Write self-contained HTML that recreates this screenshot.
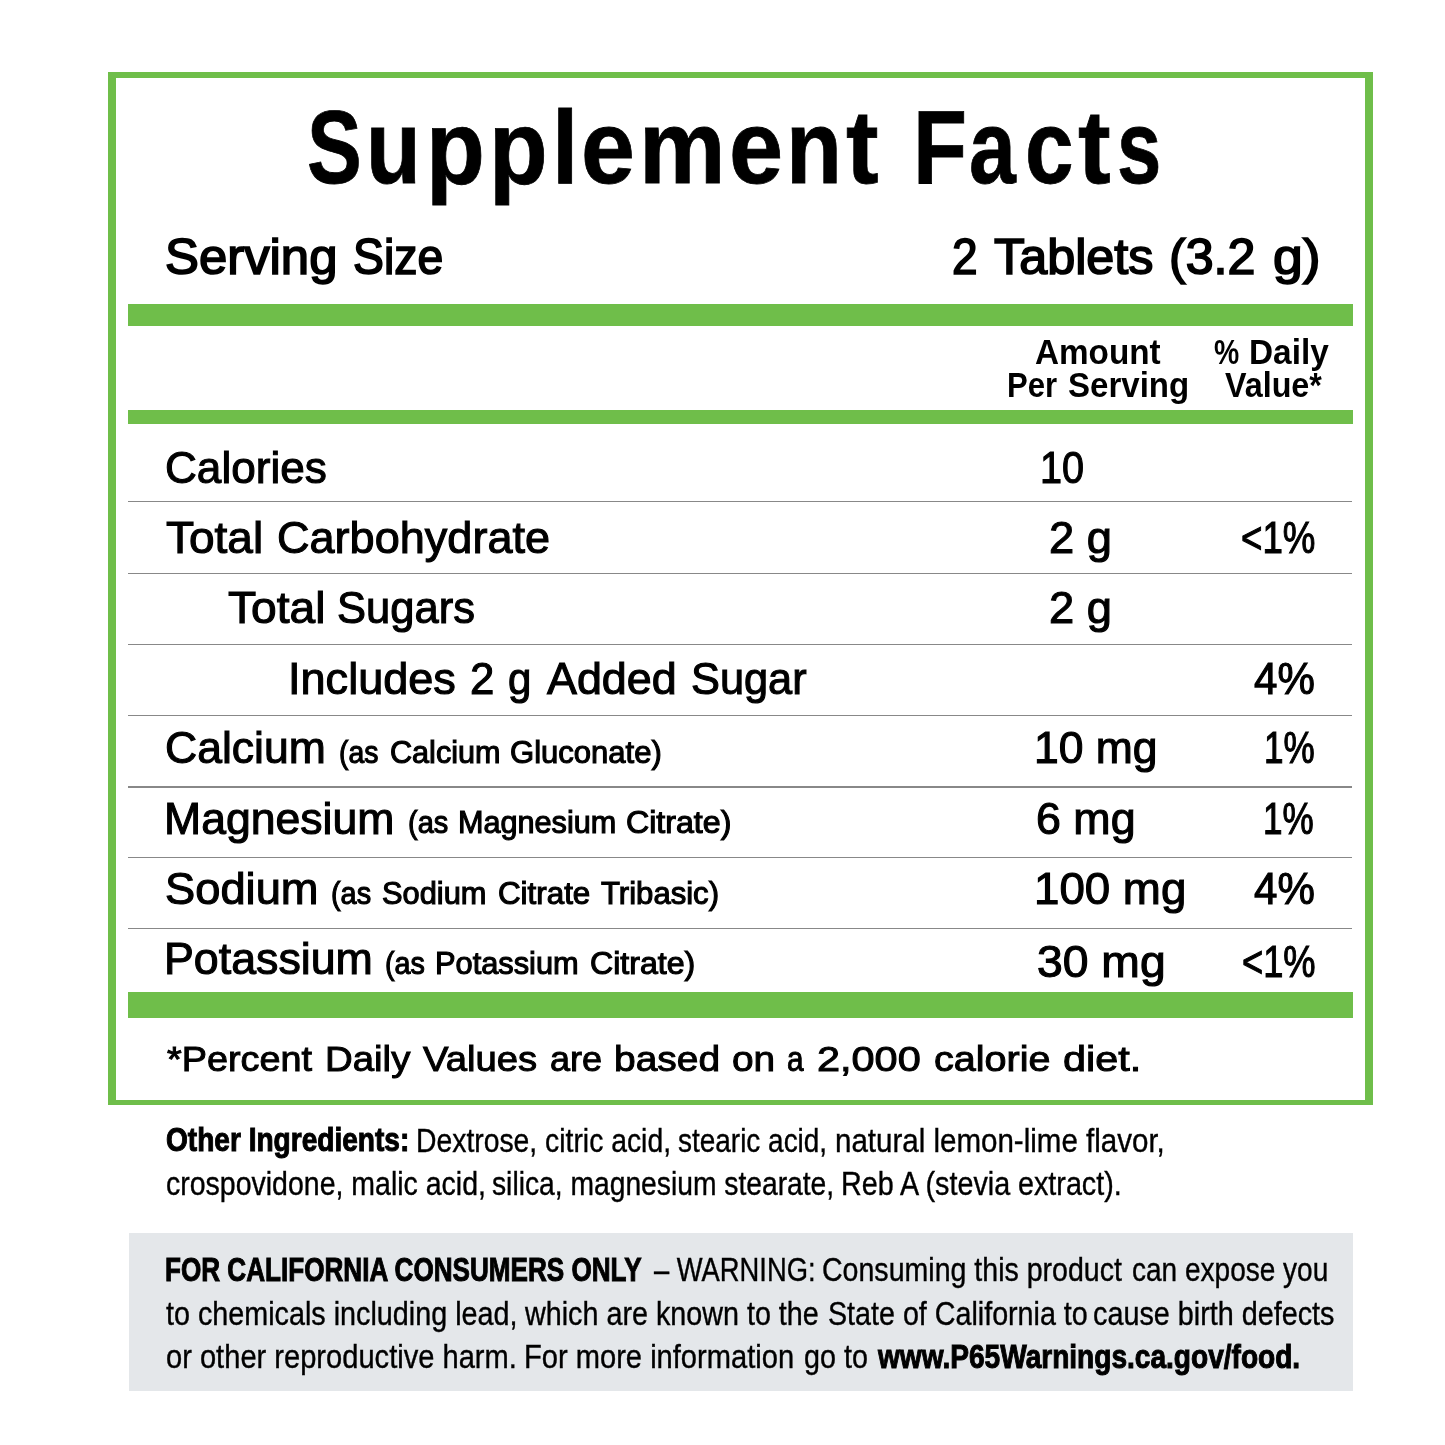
<!DOCTYPE html>
<html><head><meta charset="utf-8"><title>Supplement Facts</title>
<style>
html,body{margin:0;padding:0;background:#fff;}
body{width:1445px;height:1445px;position:relative;overflow:hidden;font-family:"Liberation Sans",sans-serif;color:#000;}
.t{position:absolute;white-space:nowrap;line-height:1;transform-origin:0 0;color:#000;}
.box{position:absolute;left:108px;top:72px;width:1249px;height:1022px;border-style:solid;border-color:#6fbe4a;border-width:6px 8px 5.5px 8px;}
.bar{position:absolute;left:128px;width:1225px;background:#6fbe4a;}
.ln{position:absolute;left:128px;width:1224px;height:1.25px;background:#888;}
.w{position:absolute;left:0;top:0;}
.txt{position:absolute;left:0;top:0;width:1445px;height:1445px;will-change:transform;}
.warn{position:absolute;left:129px;top:1233px;width:1224px;height:158px;background:#e4e7ea;}
</style></head><body>
<div class="box"></div>
<div class="bar" style="top:304px;height:22px"></div>
<div class="bar" style="top:410.2px;height:13.5px"></div>
<div class="bar" style="top:992px;height:26px"></div>
<div class="ln" style="top:501.00px"></div>
<div class="ln" style="top:572.70px"></div>
<div class="ln" style="top:643.60px"></div>
<div class="ln" style="top:714.80px"></div>
<div class="ln" style="top:786.30px"></div>
<div class="ln" style="top:857.10px"></div>
<div class="ln" style="top:928.00px"></div>
<div class="warn"></div>
<div class="txt">
<div class="w"><span class="t" style="left:306.73px;top:96px;font-size:103.63px;transform:scaleX(0.7917);font-weight:700;-webkit-text-stroke:0.8px #000;">S</span><span class="t" style="left:366.16px;top:96px;font-size:103.63px;transform:scaleX(0.8649);font-weight:700;-webkit-text-stroke:0.8px #000;">u</span><span class="t" style="left:425.59px;top:96px;font-size:103.63px;transform:scaleX(0.9307);font-weight:700;-webkit-text-stroke:0.8px #000;">p</span><span class="t" style="left:488.61px;top:96px;font-size:103.63px;transform:scaleX(0.9270);font-weight:700;-webkit-text-stroke:0.8px #000;">p</span><span class="t" style="left:551.74px;top:96px;font-size:103.63px;transform:scaleX(0.9177);font-weight:700;-webkit-text-stroke:0.8px #000;">l</span><span class="t" style="left:580.64px;top:96px;font-size:103.63px;transform:scaleX(0.9344);font-weight:700;-webkit-text-stroke:0.8px #000;">e</span><span class="t" style="left:638.95px;top:96px;font-size:103.63px;transform:scaleX(0.9381);font-weight:700;-webkit-text-stroke:0.8px #000;">m</span><span class="t" style="left:728.52px;top:96px;font-size:103.63px;transform:scaleX(0.9382);font-weight:700;-webkit-text-stroke:0.8px #000;">e</span><span class="t" style="left:786.25px;top:96px;font-size:103.63px;transform:scaleX(0.8842);font-weight:700;-webkit-text-stroke:0.8px #000;">n</span><span class="t" style="left:846.43px;top:96px;font-size:103.63px;transform:scaleX(0.9438);font-weight:700;-webkit-text-stroke:0.8px #000;">t</span></div>
<div class="w"><span class="t" style="left:912.92px;top:96px;font-size:103.63px;transform:scaleX(0.8540);font-weight:700;-webkit-text-stroke:0.8px #000;">F</span><span class="t" style="left:968.59px;top:96px;font-size:103.63px;transform:scaleX(0.8116);font-weight:700;-webkit-text-stroke:0.8px #000;">a</span><span class="t" style="left:1024.97px;top:96px;font-size:103.63px;transform:scaleX(0.8417);font-weight:700;-webkit-text-stroke:0.8px #000;">c</span><span class="t" style="left:1078.43px;top:96px;font-size:103.63px;transform:scaleX(0.9467);font-weight:700;-webkit-text-stroke:0.8px #000;">t</span><span class="t" style="left:1117.00px;top:96px;font-size:103.63px;transform:scaleX(0.7683);font-weight:700;-webkit-text-stroke:0.8px #000;">s</span></div>
<div class="t" style="left:165.02px;top:233px;font-size:49.71px;transform:scaleX(1.0231);-webkit-text-stroke:1.7px #000;">Serving</div>
<div class="t" style="left:353.23px;top:233px;font-size:49.71px;transform:scaleX(0.9330);-webkit-text-stroke:1.7px #000;">Size</div>
<div class="t" style="left:951.64px;top:233px;font-size:49.71px;transform:scaleX(0.9261);-webkit-text-stroke:1.7px #000;">2</div>
<div class="t" style="left:993.85px;top:233px;font-size:49.71px;transform:scaleX(1.0125);-webkit-text-stroke:1.7px #000;">Tablets</div>
<div class="t" style="left:1168.53px;top:233px;font-size:49.71px;transform:scaleX(1.0084);-webkit-text-stroke:1.7px #000;">(3.2</div>
<div class="t" style="left:1273.26px;top:233px;font-size:49.71px;transform:scaleX(1.0764);-webkit-text-stroke:1.7px #000;">g)</div>
<div class="t" style="left:1034.80px;top:334px;font-size:35.32px;transform:scaleX(0.9423);font-weight:700;">Amount</div>
<div class="t" style="left:1006.94px;top:367px;font-size:35.32px;transform:scaleX(0.8806);font-weight:700;">Per</div>
<div class="t" style="left:1068.26px;top:367px;font-size:35.32px;transform:scaleX(0.9358);font-weight:700;">Serving</div>
<div class="t" style="left:1214.20px;top:334px;font-size:35.32px;transform:scaleX(0.8032);font-weight:700;">%</div>
<div class="t" style="left:1249.21px;top:334px;font-size:35.32px;transform:scaleX(0.9449);font-weight:700;">Daily</div>
<div class="t" style="left:1224.70px;top:367px;font-size:35.32px;transform:scaleX(0.9138);font-weight:700;">Value*</div>
<div class="t" style="left:165.38px;top:445px;font-size:45.2px;transform:scaleX(0.9764);-webkit-text-stroke:1.1px #000;">Calories</div>
<div class="t" style="left:1040.15px;top:445px;font-size:45.2px;transform:scaleX(0.8765);-webkit-text-stroke:1.1px #000;">10</div>
<div class="t" style="left:165.74px;top:515px;font-size:45.2px;transform:scaleX(1.0181);-webkit-text-stroke:1.1px #000;">Total</div>
<div class="t" style="left:276.75px;top:515px;font-size:45.2px;transform:scaleX(0.9972);-webkit-text-stroke:1.1px #000;">Carbohydrate</div>
<div class="t" style="left:1048.65px;top:515px;font-size:45.2px;transform:scaleX(1.0019);-webkit-text-stroke:1.1px #000;">2 g</div>
<div class="t" style="left:1241.32px;top:515px;font-size:45.2px;transform:scaleX(0.8112);-webkit-text-stroke:1.1px #000;">&lt;1%</div>
<div class="t" style="left:227.74px;top:585px;font-size:45.2px;transform:scaleX(1.0213);-webkit-text-stroke:1.1px #000;">Total</div>
<div class="t" style="left:337.30px;top:585px;font-size:45.2px;transform:scaleX(0.9632);-webkit-text-stroke:1.1px #000;">Sugars</div>
<div class="t" style="left:1048.65px;top:585px;font-size:45.2px;transform:scaleX(1.0019);-webkit-text-stroke:1.1px #000;">2 g</div>
<div class="t" style="left:287.76px;top:656px;font-size:45.2px;transform:scaleX(0.9975);-webkit-text-stroke:1.1px #000;">Includes</div>
<div class="t" style="left:469.50px;top:656px;font-size:45.2px;transform:scaleX(0.9683);-webkit-text-stroke:1.1px #000;">2</div>
<div class="t" style="left:507.78px;top:656px;font-size:45.2px;transform:scaleX(0.9307);-webkit-text-stroke:1.1px #000;">g</div>
<div class="t" style="left:547.35px;top:656px;font-size:45.2px;transform:scaleX(0.9928);-webkit-text-stroke:1.1px #000;">Added</div>
<div class="t" style="left:691.31px;top:656px;font-size:45.2px;transform:scaleX(0.9588);-webkit-text-stroke:1.1px #000;">Sugar</div>
<div class="t" style="left:1253.58px;top:656px;font-size:45.2px;transform:scaleX(0.9310);-webkit-text-stroke:1.1px #000;">4%</div>
<div class="t" style="left:165.37px;top:725px;font-size:45.2px;transform:scaleX(0.9852);-webkit-text-stroke:1.1px #000;">Calcium</div>
<div class="t" style="left:339.08px;top:737px;font-size:30.67px;transform:scaleX(0.9254);-webkit-text-stroke:1.1px #000;">(as</div>
<div class="t" style="left:389.85px;top:737px;font-size:30.67px;transform:scaleX(0.9983);-webkit-text-stroke:1.1px #000;">Calcium</div>
<div class="t" style="left:510.14px;top:737px;font-size:30.67px;transform:scaleX(1.0118);-webkit-text-stroke:1.1px #000;">Gluconate)</div>
<div class="t" style="left:1034.39px;top:725px;font-size:45.2px;transform:scaleX(0.9839);-webkit-text-stroke:1.1px #000;">10 mg</div>
<div class="t" style="left:1263.60px;top:725px;font-size:45.2px;transform:scaleX(0.7761);-webkit-text-stroke:1.1px #000;">1%</div>
<div class="t" style="left:163.98px;top:796px;font-size:45.2px;transform:scaleX(0.9863);-webkit-text-stroke:1.1px #000;">Magnesium</div>
<div class="t" style="left:407.68px;top:807px;font-size:30.67px;transform:scaleX(0.9443);-webkit-text-stroke:1.1px #000;">(as</div>
<div class="t" style="left:457.85px;top:807px;font-size:30.67px;transform:scaleX(0.9986);-webkit-text-stroke:1.1px #000;">Magnesium</div>
<div class="t" style="left:626.23px;top:807px;font-size:30.67px;transform:scaleX(1.0484);-webkit-text-stroke:1.1px #000;">Citrate)</div>
<div class="t" style="left:1036.26px;top:796px;font-size:45.2px;transform:scaleX(0.9915);-webkit-text-stroke:1.1px #000;">6 mg</div>
<div class="t" style="left:1262.60px;top:796px;font-size:45.2px;transform:scaleX(0.7761);-webkit-text-stroke:1.1px #000;">1%</div>
<div class="t" style="left:164.95px;top:866px;font-size:45.2px;transform:scaleX(1.0022);-webkit-text-stroke:1.1px #000;">Sodium</div>
<div class="t" style="left:330.58px;top:878px;font-size:30.67px;transform:scaleX(0.9420);-webkit-text-stroke:1.1px #000;">(as</div>
<div class="t" style="left:382.05px;top:878px;font-size:30.67px;transform:scaleX(1.0048);-webkit-text-stroke:1.1px #000;">Sodium</div>
<div class="t" style="left:497.54px;top:878px;font-size:30.67px;transform:scaleX(1.0219);-webkit-text-stroke:1.1px #000;">Citrate</div>
<div class="t" style="left:601.06px;top:878px;font-size:30.67px;transform:scaleX(1.0140);-webkit-text-stroke:1.1px #000;">Tribasic)</div>
<div class="t" style="left:1034.32px;top:866px;font-size:45.2px;transform:scaleX(1.0103);-webkit-text-stroke:1.1px #000;">100 mg</div>
<div class="t" style="left:1253.58px;top:866px;font-size:45.2px;transform:scaleX(0.9310);-webkit-text-stroke:1.1px #000;">4%</div>
<div class="t" style="left:163.97px;top:936px;font-size:45.2px;transform:scaleX(0.9902);-webkit-text-stroke:1.1px #000;">Potassium</div>
<div class="t" style="left:384.78px;top:948px;font-size:30.67px;transform:scaleX(0.9372);-webkit-text-stroke:1.1px #000;">(as</div>
<div class="t" style="left:435.04px;top:948px;font-size:30.67px;transform:scaleX(1.0037);-webkit-text-stroke:1.1px #000;">Potassium</div>
<div class="t" style="left:589.63px;top:948px;font-size:30.67px;transform:scaleX(1.0474);-webkit-text-stroke:1.1px #000;">Citrate)</div>
<div class="t" style="left:1037.24px;top:939px;font-size:45.2px;transform:scaleX(1.0246);-webkit-text-stroke:1.1px #000;">30 mg</div>
<div class="t" style="left:1241.94px;top:939px;font-size:45.2px;transform:scaleX(0.8023);-webkit-text-stroke:1.1px #000;">&lt;1%</div>
<div class="t" style="left:167.23px;top:1041px;font-size:35.94px;transform:scaleX(1.0526);-webkit-text-stroke:1.0px #000;">*Percent</div>
<div class="t" style="left:324.90px;top:1041px;font-size:35.94px;transform:scaleX(1.0687);-webkit-text-stroke:1.0px #000;">Daily</div>
<div class="t" style="left:422.53px;top:1041px;font-size:35.94px;transform:scaleX(1.0652);-webkit-text-stroke:1.0px #000;">Values</div>
<div class="t" style="left:550.20px;top:1041px;font-size:35.94px;transform:scaleX(1.0031);-webkit-text-stroke:1.0px #000;">are</div>
<div class="t" style="left:614.27px;top:1041px;font-size:35.94px;transform:scaleX(1.0844);-webkit-text-stroke:1.0px #000;">based</div>
<div class="t" style="left:732.36px;top:1041px;font-size:35.94px;transform:scaleX(1.0796);-webkit-text-stroke:1.0px #000;">on</div>
<div class="t" style="left:786.79px;top:1041px;font-size:35.94px;transform:scaleX(0.8300);-webkit-text-stroke:1.0px #000;">a</div>
<div class="t" style="left:816.92px;top:1041px;font-size:35.94px;transform:scaleX(1.1539);-webkit-text-stroke:1.0px #000;">2,000</div>
<div class="t" style="left:934.05px;top:1041px;font-size:35.94px;transform:scaleX(1.1007);-webkit-text-stroke:1.0px #000;">calorie</div>
<div class="t" style="left:1062.72px;top:1041px;font-size:35.94px;transform:scaleX(1.1522);-webkit-text-stroke:1.0px #000;">diet.</div>
<div class="t" style="left:165.77px;top:1124px;font-size:32.85px;transform:scaleX(0.8551);font-weight:700;-webkit-text-stroke:1.0px #000;">Other Ingredients:</div>
<div class="t" style="left:416.09px;top:1124px;font-size:33.72px;transform:scaleX(0.8402);-webkit-text-stroke:0.4px #000;">Dextrose, citric acid,</div>
<div class="t" style="left:678.47px;top:1124px;font-size:33.72px;transform:scaleX(0.8289);-webkit-text-stroke:0.4px #000;">stearic acid,</div>
<div class="t" style="left:834.62px;top:1124px;font-size:33.72px;transform:scaleX(0.8755);-webkit-text-stroke:0.4px #000;">natural lemon-lime flavor,</div>
<div class="t" style="left:165.52px;top:1167px;font-size:33.72px;transform:scaleX(0.8450);-webkit-text-stroke:0.4px #000;">crospovidone, malic acid,</div>
<div class="t" style="left:491.77px;top:1167px;font-size:33.72px;transform:scaleX(0.8375);-webkit-text-stroke:0.4px #000;">silica, magnesium stearate,</div>
<div class="t" style="left:840.57px;top:1167px;font-size:33.72px;transform:scaleX(0.8511);-webkit-text-stroke:0.4px #000;">Reb A (stevia extract).</div>
<div class="t" style="left:165.01px;top:1254px;font-size:32.85px;transform:scaleX(0.7950);font-weight:700;-webkit-text-stroke:1.0px #000;">FOR CALIFORNIA CONSUMERS ONLY</div>
<div class="t" style="left:653.56px;top:1253px;font-size:33.72px;transform:scaleX(0.8112);-webkit-text-stroke:0.4px #000;">– WARNING:</div>
<div class="t" style="left:822.02px;top:1253px;font-size:33.72px;transform:scaleX(0.8466);-webkit-text-stroke:0.4px #000;">Consuming this product</div>
<div class="t" style="left:1131.94px;top:1253px;font-size:33.72px;transform:scaleX(0.8309);-webkit-text-stroke:0.4px #000;">can expose you</div>
<div class="t" style="left:166.37px;top:1297px;font-size:33.72px;transform:scaleX(0.8524);-webkit-text-stroke:0.4px #000;">to chemicals including lead,</div>
<div class="t" style="left:524.52px;top:1297px;font-size:33.72px;transform:scaleX(0.8518);-webkit-text-stroke:0.4px #000;">which are known to the</div>
<div class="t" style="left:827.62px;top:1297px;font-size:33.72px;transform:scaleX(0.8502);-webkit-text-stroke:0.4px #000;">State of California to</div>
<div class="t" style="left:1093.02px;top:1297px;font-size:33.72px;transform:scaleX(0.8531);-webkit-text-stroke:0.4px #000;">cause birth defects</div>
<div class="t" style="left:165.51px;top:1340px;font-size:33.72px;transform:scaleX(0.8627);-webkit-text-stroke:0.4px #000;">or other reproductive harm.</div>
<div class="t" style="left:524.45px;top:1340px;font-size:33.72px;transform:scaleX(0.8631);-webkit-text-stroke:0.4px #000;">For more information</div>
<div class="t" style="left:804.12px;top:1340px;font-size:33.72px;transform:scaleX(0.8514);-webkit-text-stroke:0.4px #000;">go to</div>
<div class="t" style="left:878.28px;top:1341px;font-size:32.85px;transform:scaleX(0.8550);font-weight:700;-webkit-text-stroke:1.0px #000;">www.P65Warnings.ca.gov/food.</div>
</div>
</body></html>
